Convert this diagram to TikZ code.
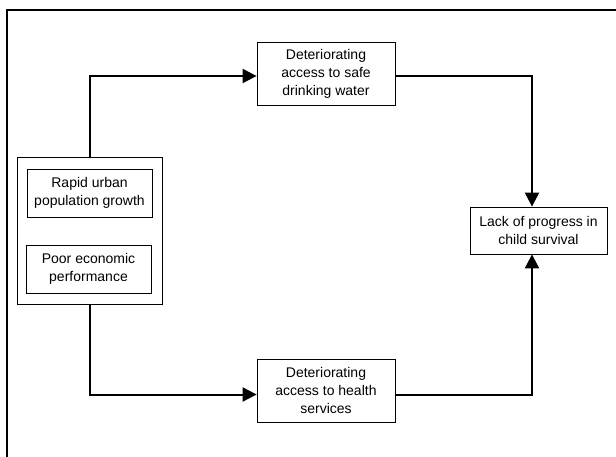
\documentclass[tikz,border=0pt]{standalone}
\usepackage{fontspec}
\setmainfont{Liberation Sans}
\usepackage{tikz}
\usetikzlibrary{arrows.meta, calc}

\begin{document}
\begin{tikzpicture}[
    x=1pt, y=-1pt,
    box/.style={draw, line width=0.8pt, align=center, inner sep=0pt,
      font=\fontsize{14}{18}\selectfont},
    flow/.style={line width=2pt, -{Triangle[length=14pt,width=14pt]}},
  ]
  \useasboundingbox (0,0) rectangle (616,457);
  % frame
  \draw[line width=1.6pt] (7,457) -- (7,10) -- (616,10);
  % causes
  \node[box, minimum width=145pt, minimum height=147pt] (grp) at (89.5,230.5) {};
  \node[box, minimum width=125pt, minimum height=48pt] (urban) at (89.5,193)
    {Rapid urban\\population growth};
  \node[box, minimum width=125pt, minimum height=48pt] (econ) at (88.5,269)
    {Poor economic\\performance};
  % pathways
  \node[box, minimum width=138pt, minimum height=63pt] (water) at (326,73.5)
    {Deteriorating\\access to safe\\drinking water};
  \node[box, minimum width=138pt, minimum height=63pt] (health) at (326,390.5)
    {Deteriorating\\access to health\\services};
  % outcome
  \node[box, minimum width=137pt, minimum height=47pt] (child) at (538.5,230.5)
    {Lack of progress in\\child survival};
  \path[flow]
    (grp.north) edge[to path={|- (\tikztotarget)}] ([yshift=-2.5pt]water.west)
    (grp.south) edge[to path={|- (\tikztotarget)}] ([yshift=-4pt]health.west)
    ([yshift=-2.5pt]water.east) edge[to path={-| (\tikztotarget)}] ([xshift=-6.5pt]child.north)
    ([yshift=-4pt]health.east) edge[to path={-| (\tikztotarget)}] ([xshift=-6.5pt]child.south)
    ;
\end{tikzpicture}
\end{document}
